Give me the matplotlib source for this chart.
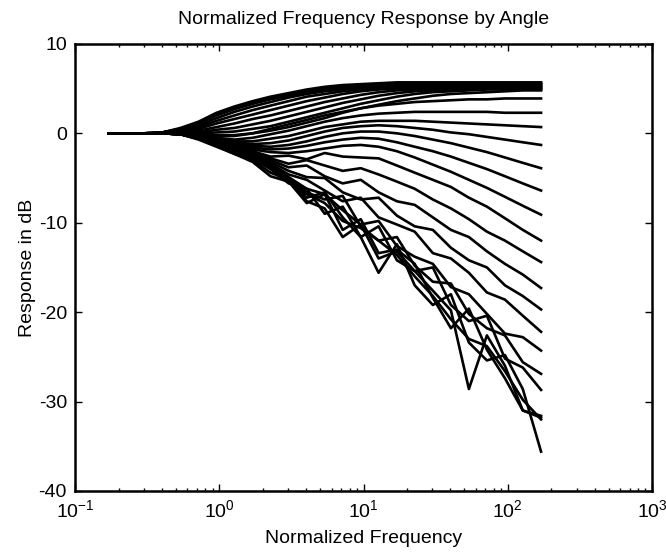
import matplotlib.pyplot as plt

plt.rcParams['font.family'] = ['Liberation Sans', 'DejaVu Sans']
plt.rcParams['axes.unicode_minus'] = False

# Normalized frequency samples (log spaced, 8 per decade)
freq = [0.170, 0.227, 0.302, 0.403, 0.537, 0.716, 0.955, 1.27, 1.70, 2.26,
        3.02, 4.03, 5.37, 7.16, 9.55, 12.7, 17.0, 22.6, 30.2, 40.3,
        53.7, 71.6, 95.5, 127.0, 170.0]

# Front angles: rise towards +5.5 dB
front_db = [
    [0, 0, 0, 0.1, 0.6, 1.3, 2.3, 3.0, 3.6, 4.1, 4.5, 4.9, 5.2, 5.4, 5.5, 5.6, 5.7, 5.7, 5.7, 5.7, 5.7, 5.7, 5.7, 5.7, 5.7],
    [0, 0, 0, 0.1, 0.5, 1.2, 2.1, 2.8, 3.4, 3.9, 4.3, 4.7, 5.0, 5.2, 5.4, 5.5, 5.6, 5.6, 5.6, 5.6, 5.6, 5.6, 5.6, 5.6, 5.6],
    [0, 0, 0, 0.1, 0.5, 1.1, 2.0, 2.7, 3.3, 3.8, 4.2, 4.6, 4.9, 5.1, 5.3, 5.4, 5.5, 5.5, 5.5, 5.5, 5.5, 5.5, 5.5, 5.5, 5.5],
    [0, 0, 0, 0.1, 0.4, 0.9, 1.7, 2.4, 3.0, 3.5, 4.0, 4.4, 4.7, 4.9, 5.1, 5.2, 5.3, 5.4, 5.4, 5.4, 5.4, 5.4, 5.4, 5.4, 5.4],
    [0, 0, 0, 0.1, 0.3, 0.7, 1.4, 2.0, 2.6, 3.1, 3.6, 4.1, 4.4, 4.7, 4.9, 5.1, 5.2, 5.3, 5.3, 5.3, 5.3, 5.3, 5.3, 5.3, 5.3],
    [0, 0, 0, 0, 0.2, 0.5, 1.1, 1.6, 2.1, 2.6, 3.1, 3.6, 4.0, 4.4, 4.7, 4.9, 5.0, 5.1, 5.2, 5.2, 5.2, 5.2, 5.2, 5.2, 5.2],
    [0, 0, 0, 0, 0.1, 0.3, 0.7, 1.1, 1.6, 2.0, 2.5, 3.0, 3.5, 3.9, 4.3, 4.6, 4.8, 4.9, 5.0, 5.1, 5.1, 5.1, 5.1, 5.1, 5.1],
    [0, 0, 0, 0, 0.1, 0.1, 0.4, 0.6, 1.0, 1.4, 1.9, 2.4, 2.9, 3.4, 3.8, 4.2, 4.5, 4.7, 4.8, 4.9, 5.0, 5.0, 5.0, 5.0, 5.0],
    [0, 0, 0, 0, 0, 0, 0.1, 0.2, 0.5, 0.8, 1.3, 1.8, 2.3, 2.8, 3.3, 3.7, 4.1, 4.4, 4.6, 4.7, 4.8, 4.9, 4.9, 4.9, 4.9],
    [0, 0, 0, 0, 0, -0.1, -0.2, -0.2, 0, 0.3, 0.7, 1.2, 1.7, 2.3, 2.8, 3.2, 3.6, 3.9, 4.2, 4.4, 4.5, 4.6, 4.7, 4.8, 4.8],
]

# Side angles: smooth roll-off at high frequency
side_db = [
    [0, 0, 0, 0, 0, -0.1, -0.3, -0.3, 0.0, 0.5, 1.0, 1.5, 2.0, 2.4, 2.8, 3.1, 3.3, 3.5, 3.6, 3.7, 3.8, 3.8, 3.9, 3.9, 3.9],
    [0, 0, 0, 0, 0, -0.2, -0.5, -0.7, -0.5, -0.1, 0.3, 0.8, 1.3, 1.7, 2.0, 2.2, 2.3, 2.4, 2.4, 2.4, 2.4, 2.4, 2.3, 2.3, 2.3],
    [0, 0, 0, 0, 0, -0.2, -0.6, -0.9, -0.9, -0.6, -0.3, 0.2, 0.7, 1.0, 1.3, 1.4, 1.4, 1.4, 1.3, 1.2, 1.1, 1.0, 0.9, 0.8, 0.7],
    [0, 0, 0, 0, 0, -0.3, -0.7, -1.0, -1.2, -1.1, -0.8, -0.3, 0.2, 0.6, 0.8, 0.9, 0.8, 0.6, 0.4, 0.1, -0.1, -0.4, -0.7, -1.0, -1.3],
    [0, 0, 0, 0, 0, -0.3, -0.8, -1.2, -1.4, -1.5, -1.3, -0.9, -0.4, 0.0, 0.2, 0.2, 0.0, -0.3, -0.7, -1.1, -1.6, -2.1, -2.7, -3.3, -3.9],
    [0, 0, 0, 0, 0, -0.3, -0.8, -1.3, -1.6, -1.8, -1.7, -1.4, -1.0, -0.7, -0.5, -0.6, -1.0, -1.5, -2.0, -2.6, -3.3, -4.0, -4.8, -5.6, -6.4],
    [0, 0, 0, 0, 0, -0.4, -0.9, -1.4, -1.8, -2.1, -2.2, -2.0, -1.7, -1.4, -1.3, -1.5, -2.0, -2.7, -3.5, -4.3, -5.2, -6.1, -7.1, -8.1, -9.1],
]

# Rear angles: deep shadow with interference ripple
rear_db = [
    [0, 0, 0, 0, 0, -0.4, -1.0, -1.5, -2.0, -2.6, -2.5, -2.9, -2.2, -2.6, -2.7, -2.8, -3.6, -4.4, -5.2, -6.0, -7.2, -8.2, -9.5, -10.8, -12.0],
    [0, 0, 0, 0, -0.1, -0.4, -1.0, -1.6, -2.1, -2.8, -3.4, -3.0, -3.6, -4.2, -3.9, -4.6, -5.4, -6.2, -7.4, -8.4, -9.6, -11.0, -12.0, -13.2, -14.4],
    [0, 0, 0, 0, -0.1, -0.5, -1.1, -1.7, -2.2, -3.0, -3.8, -3.6, -4.8, -5.6, -5.2, -6.6, -7.6, -8.0, -9.4, -10.8, -11.6, -13.2, -14.6, -15.8, -17.3],
    [0, 0, 0, 0, -0.1, -0.5, -1.1, -1.8, -2.3, -3.2, -4.2, -4.9, -5.0, -6.6, -7.4, -7.2, -9.2, -10.4, -10.8, -12.8, -14.2, -15.0, -17.0, -18.2, -19.7],
    [0, 0, 0, 0, -0.1, -0.5, -1.2, -1.9, -2.4, -3.4, -4.6, -5.2, -6.4, -7.6, -7.2, -9.4, -10.2, -11.0, -13.4, -14.0, -15.6, -17.8, -18.6, -20.4, -22.2],
    [0, 0, 0, 0, -0.1, -0.5, -1.2, -2.0, -2.5, -3.5, -4.9, -6.2, -6.8, -8.6, -10.2, -9.8, -12.6, -13.8, -14.6, -17.2, -18.0, -20.2, -22.4, -22.8, -24.3],
    [0, 0, 0, 0, -0.1, -0.5, -1.2, -2.0, -2.5, -3.6, -5.0, -6.6, -7.4, -7.0, -10.4, -12.0, -11.6, -14.8, -16.6, -16.8, -20.2, -21.8, -22.6, -25.6, -26.9],
    [0, 0, 0, 0, -0.1, -0.6, -1.3, -2.1, -2.6, -3.7, -5.2, -7.2, -6.6, -9.4, -11.6, -10.4, -14.2, -15.4, -15.0, -19.2, -21.0, -20.4, -25.2, -26.2, -28.7],
    [0, 0, 0, 0, -0.1, -0.6, -1.3, -2.1, -2.7, -3.8, -5.4, -7.8, -6.8, -10.8, -9.6, -13.4, -13.0, -14.6, -18.4, -21.8, -19.6, -24.2, -27.4, -31.0, -31.6],
    [0, 0, 0, 0, -0.1, -0.6, -1.4, -2.2, -2.8, -4.0, -5.6, -6.2, -9.0, -8.2, -11.6, -15.6, -12.4, -17.0, -19.2, -18.0, -23.4, -25.4, -24.8, -28.6, -35.6],
    [0, 0, 0, 0, -0.1, -0.6, -1.4, -2.3, -3.0, -4.4, -5.2, -7.6, -8.4, -11.6, -10.2, -14.0, -13.2, -15.4, -17.6, -19.8, -28.6, -22.6, -26.0, -31.0, -31.8],
    [0, 0, 0, 0, -0.1, -0.7, -1.5, -2.3, -3.2, -4.8, -5.4, -6.8, -7.8, -9.8, -10.6, -12.0, -13.6, -16.0, -18.2, -20.8, -23.0, -23.8, -26.6, -29.8, -32.0],
]

fig = plt.figure(figsize=(6.66, 5.56), dpi=100)
ax = fig.add_axes([0.113, 0.117, 0.866, 0.804])

for group in (front_db, side_db, rear_db):
    for resp in group:
        ax.semilogx(freq, resp, color='black', linewidth=1.9)

ax.set_xlim(0.1, 1000)
ax.set_ylim(-40, 10)
ax.set_yticks([-40, -30, -20, -10, 0, 10])

ax.tick_params(which='both', direction='in', top=True, right=True,
               labelsize=14, width=1.0)
ax.tick_params(which='major', length=5, pad=6)
ax.tick_params(which='minor', length=2.5)
for s in ax.spines.values():
    s.set_linewidth(1.8)

ax.set_title('Normalized Frequency Response by Angle', fontsize=14, pad=14)
ax.set_xlabel('Normalized Frequency', fontsize=14, labelpad=6)
ax.set_ylabel('Response in dB', fontsize=14, labelpad=2)

fig.savefig('out.png', dpi=100)
